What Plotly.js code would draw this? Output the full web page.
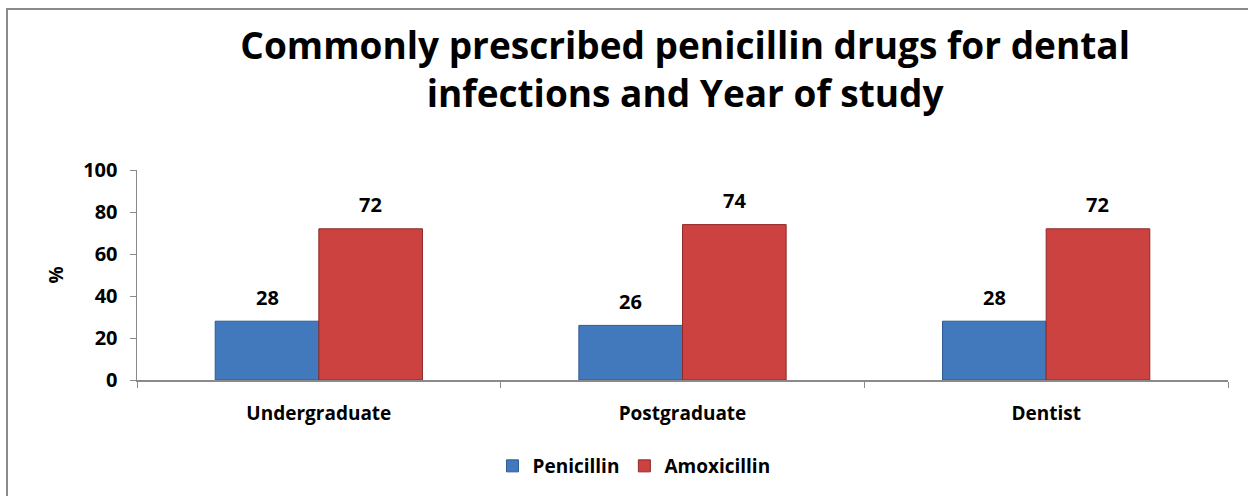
<!DOCTYPE html>
<html>
<head>
<meta charset="utf-8">
<script src="https://cdn.plot.ly/plotly-3.0.1.min.js"></script>
<style>
  html, body { margin: 0; padding: 0; background: #fff; }
  #wrap { position: relative; width: 1248px; height: 496px; overflow: hidden; }
  #frame { position: absolute; left: 6px; top: 8px; width: 1300px; height: 600px;
           border-left: 2px solid #8a8a8a; border-top: 2px solid #8a8a8a; pointer-events: none; z-index: 5; }
  #chart { position: absolute; left: 0; top: 0; width: 1248px; height: 496px; }
</style>
</head>
<body>
<div id="wrap">
  <div id="chart"></div>
  <div id="frame"></div>
</div>
<script>
const categories = ["Undergraduate", "Postgraduate", "Dentist"];
const penicillin = [28, 26, 28];
const amoxicillin = [72, 74, 72];
const seriesNames = ["Penicillin", "Amoxicillin"];
const yTicks = [0, 20, 40, 60, 80, 100];

const FONT = "'Open Sans', Lato, sans-serif";
const W = 1248, H = 496;
const M = { l: 137, r: 20, t: 170, b: 116 };
const BARGAP = 0.43;

const traces = [
  {
    type: "bar", name: seriesNames[0], x: categories, y: penicillin,
    marker: { color: "#4279bd", line: { color: "#2d5a94", width: 1 } }
  },
  {
    type: "bar", name: seriesNames[1], x: categories, y: amoxicillin,
    marker: { color: "#cc4240", line: { color: "#8e2a28", width: 1 } }
  }
];

// data labels placed above each bar through the axes (shift = half of one bar's width)
const barPx = (W - M.l - M.r) / categories.length * (1 - BARGAP) / 2;
const annotations = [];
[penicillin, amoxicillin].forEach((vals, s) => {
  vals.forEach((v, i) => {
    annotations.push({
      x: categories[i], y: v, xref: "x", yref: "y",
      text: String(v), showarrow: false,
      xshift: (s === 0 ? -1 : 1) * barPx / 2, yshift: 24,
      font: { family: FONT, size: 20, color: "#000", weight: "bold" }
    });
  });
});

const layout = {
  width: W, height: H,
  paper_bgcolor: "rgba(0,0,0,0)", plot_bgcolor: "rgba(0,0,0,0)",
  margin: M,
  font: { family: FONT, color: "#000" },
  title: {
    text: "Commonly prescribed penicillin drugs for dental<br>infections and Year of study",
    font: { family: FONT, size: 37, color: "#000", weight: "bold" },
    x: 0.549, xanchor: "center", xref: "container",
    y: 1 - 59 / H, yanchor: "top", yref: "container"
  },
  barmode: "group", bargap: BARGAP, bargroupgap: 0,
  xaxis: {
    type: "category", showgrid: false, showline: true, linecolor: "#8a8a8a", linewidth: 1.5,
    ticks: "outside", tickson: "boundaries", ticklen: 6, tickcolor: "#8a8a8a",
    tickfont: { family: FONT, size: 19, color: "#000", weight: "bold" },
    ticklabelstandoff: 16,
    zeroline: false
  },
  yaxis: {
    range: [0, 100], tickvals: yTicks, showgrid: false, zeroline: false,
    showline: true, linecolor: "#8a8a8a", linewidth: 1.5,
    ticks: "outside", ticklen: 6, tickcolor: "#8a8a8a",
    tickfont: { family: FONT, size: 20, color: "#000", weight: "bold" },
    ticklabelstandoff: 8,
    title: { text: "%", font: { family: FONT, size: 19, color: "#000", weight: "bold" }, standoff: 14 }
  },
  annotations: annotations,
  showlegend: true,
  legend: {
    orientation: "h", xref: "container", x: 0.508, xanchor: "center",
    yref: "container", y: 30 / H, yanchor: "middle",
    font: { family: FONT, size: 19, color: "#000", weight: "bold" },
    itemwidth: 30, traceorder: "normal"
  }
};

Plotly.newPlot("chart", traces, layout, { displayModeBar: false, staticPlot: true });
</script>
</body>
</html>
